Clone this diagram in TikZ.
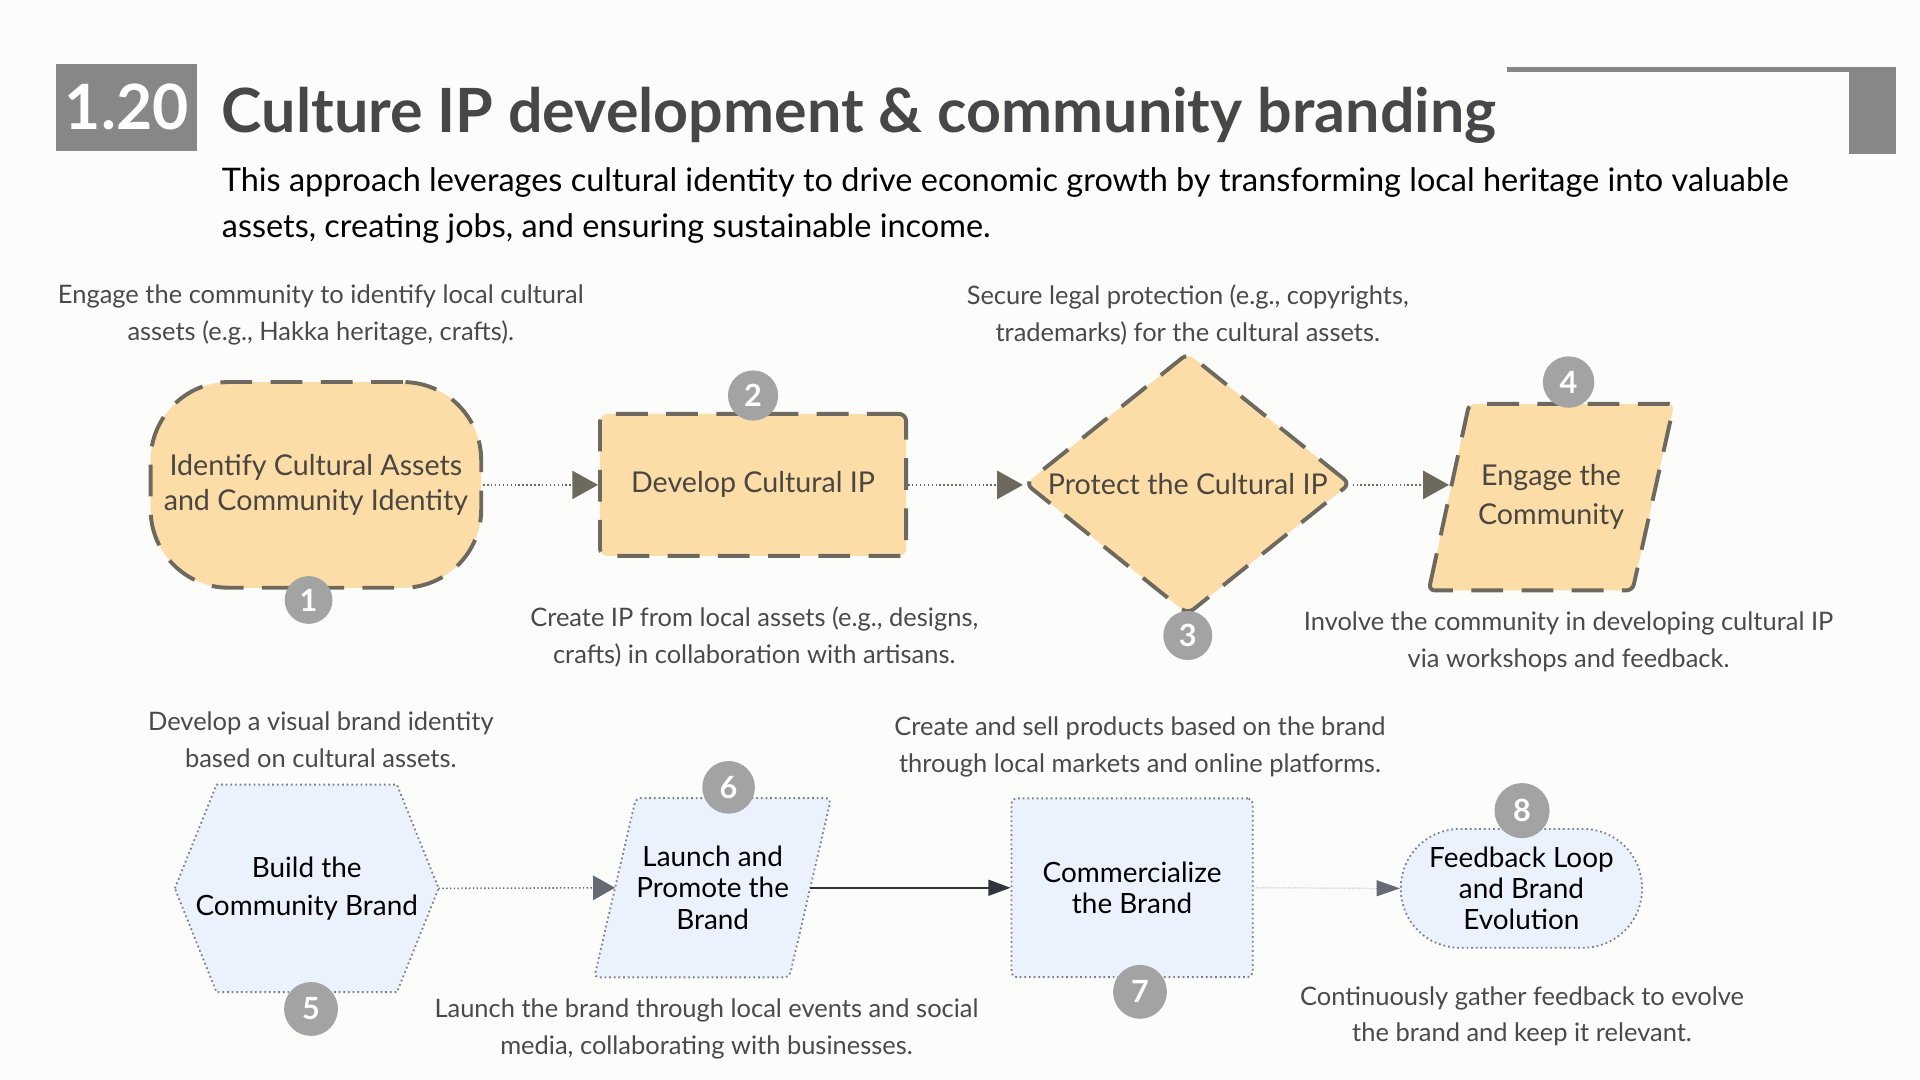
\documentclass[tikz,border=0pt]{standalone}
\usepackage{fontspec}
\setmainfont{Lato}
\usetikzlibrary{shapes.geometric,arrows.meta,calc}
\definecolor{bgc}{HTML}{FCFCFB}
\definecolor{hdrgray}{HTML}{888787}
\definecolor{titlec}{HTML}{474747}
\definecolor{orangefill}{HTML}{FCDDA8}
\definecolor{topline}{HTML}{6E695F}
\definecolor{toptext}{HTML}{4A4640}
\definecolor{bluefill}{HTML}{EBF2FE}
\definecolor{botline}{HTML}{7C8089}
\definecolor{badgegray}{HTML}{A3A3A3}
\definecolor{notegray}{HTML}{4A4A4A}
\definecolor{arrblue}{HTML}{646B76}
\definecolor{arrdark}{HTML}{30353D}
\definecolor{arrfaint}{HTML}{A9ADB3}
\begin{document}
\begin{tikzpicture}[x=1pt,y=-1pt,
  topline/.style={draw=topline, fill=orangefill, line width=3.2pt,
    dash pattern=on 26pt off 15pt},
  topbox/.style={topline, text=toptext,
    font=\fontsize{23.4}{28}\selectfont, align=center, inner sep=0pt},
  toptxt/.style={text=toptext, align=center, inner sep=0pt},
  botline/.style={draw=botline, fill=bluefill, line width=1.5pt,
    dash pattern=on 1.4pt off 2.4pt},
  botbox/.style={botline, text=black,
    font=\fontsize{22.8}{25.5}\selectfont, align=center, inner sep=0pt},
  bottxt/.style={text=black, align=center, inner sep=0pt},
  ghost/.style={inner sep=0pt},
  badge/.style={circle, fill=badgegray, text=white,
    font=\bfseries\fontsize{25}{25}\selectfont, inner sep=0pt},
  note/.style={text=notegray, font=\fontsize{20.8}{30}\selectfont, align=center},
  toparrow/.style={draw=topline, line width=1.4pt, dash pattern=on 1.2pt off 2pt,
    -{Triangle[length=21pt,width=23pt,color=topline,fill=topline]}},
]
\fill[bgc] (0,0) rectangle (1568,882);
\useasboundingbox (0,0) rectangle (1568,882);

% header
\node[fill=hdrgray, minimum width=115pt, minimum height=71pt, inner sep=0pt,
  text=white, font=\bfseries\fontsize{51}{51}\selectfont] (num) at (103.5,87.5) {1.20};
\node[anchor=base west, inner sep=0pt, text=titlec,
  font=\bfseries\fontsize{49.8}{52}\selectfont] (title) at (181,108)
  {Culture IP development \& community branding};
\fill[hdrgray] (1231,55) rectangle (1510,59);
\fill[hdrgray] (1510,55) rectangle (1548,126);
\node[anchor=base west, inner sep=0pt, font=\fontsize{26.5}{30}\selectfont] (sub1) at (181,156)
  {This approach leverages cultural identity to drive economic growth by transforming local heritage into valuable};
\node[anchor=base west, inner sep=0pt, font=\fontsize{26.5}{30}\selectfont] (sub2) at (181,194)
  {assets, creating jobs, and ensuring sustainable income.};

% top row
\node[topbox, rectangle, rounded corners=64pt, minimum width=270pt, minimum height=168pt]
  (n1) at (258,396) {Identify Cultural Assets\\and Community Identity};
\node[topbox, rectangle, rounded corners=6pt, minimum width=250pt, minimum height=116pt]
  (n2) at (615,396) {Develop Cultural IP};
\node[topbox, diamond, shape aspect=1.25, rounded corners=6pt, minimum width=266pt, minimum height=214pt]
  (n3) at (970,395) {Protect the Cultural IP};
\node[ghost, minimum width=166.5pt, minimum height=152pt] (n4) at (1266.75,406) {};
\path[topline, rounded corners=5pt] ($(n4.south west)+(-16.5,0)$) -- ($(n4.north west)+(16.5,0)$)
  -- ($(n4.north east)+(17,0)$) -- ($(n4.south east)+(-17,0)$) -- cycle;
\node[toptxt, font=\fontsize{23.4}{31.5}\selectfont] at (n4.center) {Engage the\\Community};

\draw[toparrow] (n1.east) -- (n2.west);
\draw[toparrow] (n2.east) -- (n2.east -| n3.west);
\draw[toparrow] (n2.east -| n3.east) -- (n2.east -| n4.west);

\node[badge, minimum size=39pt] (b1) at (252,490) {1};
\node[badge, minimum size=41pt] (b2) at (615,323) {2};
\node[badge, minimum size=40pt] (b3) at (970,519) {3};
\node[badge, minimum size=42pt] (b4) at (1281,312) {4};

\node[note] (t1) at (262,257) {Engage the community to identify local cultural\\assets (e.g., Hakka heritage, crafts).};
\node[note] (t3) at (970,257) {Secure legal protection (e.g., copyrights,\\trademarks) for the cultural assets.};
\node[note] (t2) at (616,520) {Create IP from local assets (e.g., designs,\\crafts) in collaboration with artisans.};
\node[note] (t4) at (1281,524) {Involve the community in developing cultural IP\\via workshops and feedback.};

% bottom row
\node[ghost, minimum width=215pt, minimum height=169pt] (n5) at (250.5,725.5) {};
\path[botline] (n5.west) -- ($(n5.north west)+(34,0)$) -- ($(n5.north east)+(-34,0)$)
  -- (n5.east) -- ($(n5.south east)+(-34,0)$) -- ($(n5.south west)+(34,0)$) -- cycle;
\node[bottxt, font=\fontsize{22.8}{31}\selectfont] at (n5.center) {Build the\\Community Brand};

\node[ghost, minimum width=159pt, minimum height=146pt] (n6) at (582,725) {};
\path[botline, rounded corners=4pt] ($(n6.south west)+(-17,0)$) -- ($(n6.north west)+(17,0)$)
  -- ($(n6.north east)+(17,0)$) -- ($(n6.south east)+(-17,0)$) -- cycle;
\node[bottxt, font=\fontsize{22.8}{25.5}\selectfont] at (n6.center) {Launch and\\Promote the\\Brand};

\node[botbox, rectangle, rounded corners=4pt, minimum width=197pt, minimum height=146pt]
  (n7) at (924.5,725) {Commercialize\\the Brand};
\node[botbox, rectangle, rounded corners=48pt, minimum width=197pt, minimum height=97pt]
  (n8) at (1242.5,725.5) {Feedback Loop\\and Brand\\Evolution};

\draw[draw=arrblue, line width=1.3pt, dash pattern=on 1.1pt off 2pt,
  -{Triangle[length=18pt,width=20pt,color=arrblue,fill=arrblue]}] (n5.east) -- (n6.west);
\draw[draw=arrdark, line width=1.3pt,
  -{Triangle[length=18pt,width=13pt,color=arrdark,fill=arrdark]}] (n6.east) -- (n7.west);
\draw[draw=arrfaint, line width=0.8pt, dash pattern=on 0.8pt off 1.2pt,
  -{Triangle[length=19pt,width=13pt,color=arrblue,fill=arrblue]}] (n7.east) -- (n8.west);

\node[badge, minimum size=44pt] (b5) at (254,824) {5};
\node[badge, minimum size=43pt] (b6) at (595,643) {6};
\node[badge, minimum size=44pt] (b7) at (931,810) {7};
\node[badge, minimum size=45pt] (b8) at (1243,662) {8};

\node[note] (t5) at (262,604) {Develop a visual brand identity\\based on cultural assets.};
\node[note] (t7) at (931,610) {Create and sell products based on the brand\\through local markets and online platforms.};
\node[note] (t6) at (577,840) {Launch the brand through local events and social\\media, collaborating with businesses.};
\node[note] (t8) at (1243,830) {Continuously gather feedback to evolve\\the brand and keep it relevant.};
\end{tikzpicture}
\end{document}
